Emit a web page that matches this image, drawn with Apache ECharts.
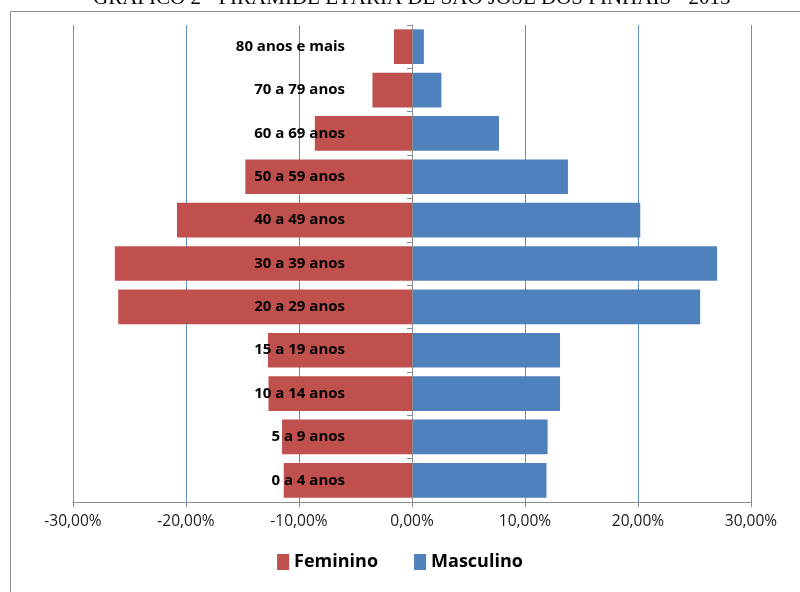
<!DOCTYPE html>
<html>
<head>
<meta charset="utf-8">
<script src="https://cdn.jsdelivr.net/npm/echarts@6/dist/echarts.min.js"></script>
<style>
  html, body { margin: 0; padding: 0; background: #fff; }
  #chart { width: 800px; height: 592px; }
</style>
</head>
<body>
<div id="chart"></div>
<script>
// faixas etarias, de baixo para cima
let faixas = ['0 a 4 anos', '5 a 9 anos', '10 a 14 anos', '15 a 19 anos', '20 a 29 anos',
    '30 a 39 anos', '40 a 49 anos', '50 a 59 anos', '60 a 69 anos', '70 a 79 anos', '80 anos e mais'];

// percentuais (feminino vai para a esquerda)
let feminino = [11.35, 11.5, 12.7, 12.75, 26.0, 26.3, 20.8, 14.75, 8.6, 3.5, 1.6];
let masculino = [11.9, 12.0, 13.1, 13.1, 25.5, 27.0, 20.2, 13.8, 7.7, 2.6, 1.05];

let x_ticks = [-30, -20, -10, 0, 10, 20, 30];

function fmt_pct(v) {
    return v.toFixed(2).replace('.', ',') + '%';
}

document.addEventListener("DOMContentLoaded", () => {
    draw_piramide();
});

function draw_piramide() {
    var chart = echarts.init(document.querySelector("#chart"));

    chart.setOption({
        animation: false,
        title: {
            text: 'GRÁFICO 2 - PIRÂMIDE ETÁRIA DE SÃO JOSÉ DOS PINHAIS - 2015',
            left: 88,
            top: -17,
            textStyle: {
                fontFamily: 'Liberation Serif',
                fontWeight: 'normal',
                fontSize: 21,
                color: '#000'
            }
        },
        graphic: [{
            type: 'rect',
            shape: { x: 10.5, y: 11.5, width: 800, height: 600 },
            style: { fill: 'none', stroke: '#8c8c8c', lineWidth: 1 },
            silent: true
        }],
        legend: {
            bottom: 16,
            left: 'center',
            itemWidth: 12,
            itemHeight: 16,
            itemGap: 36,
            icon: 'rect',
            textStyle: {
                fontFamily: 'Open Sans',
                fontWeight: 'bold',
                fontSize: 18,
                color: '#000'
            },
            data: ['Feminino', 'Masculino']
        },
        grid: {
            left: 73,
            right: 49,
            top: 25,
            bottom: 90,
            containLabel: false,
            outerBoundsMode: 'none'
        },
        xAxis: {
            type: 'value',
            min: x_ticks[0],
            max: x_ticks[x_ticks.length - 1],
            interval: 10,
            axisLine: { show: true, lineStyle: { color: '#8c8c8c' } },
            axisTick: { show: true, length: 5, lineStyle: { color: '#8c8c8c' } },
            axisLabel: {
                formatter: fmt_pct,
                fontFamily: 'Open Sans',
                fontSize: 15.5,
                color: '#1a1a1a',
                margin: 12
            },
            splitLine: { show: true, lineStyle: { color: '#5b8fd0', width: 1 } }
        },
        yAxis: {
            type: 'category',
            data: faixas,
            z: 10,
            // eixo desenhado no 0,00% (412 - 73)
            offset: -339,
            axisLine: { show: true, onZero: false, lineStyle: { color: '#8c8c8c' } },
            axisTick: { show: true, length: 5, lineStyle: { color: '#8c8c8c' } },
            axisLabel: {
                margin: 67,
                fontFamily: 'Open Sans',
                fontWeight: 'bold',
                fontSize: 15,
                color: '#000'
            },
            splitLine: { show: false }
        },
        series: [{
            name: 'Feminino',
            type: 'bar',
            stack: 'piramide',
            barCategoryGap: '20%',
            itemStyle: { color: '#c0504d' },
            data: feminino.map(function (v) { return -v; })
        }, {
            name: 'Masculino',
            type: 'bar',
            stack: 'piramide',
            barCategoryGap: '20%',
            itemStyle: { color: '#4f81bd' },
            data: masculino
        }]
    });
}
</script>
</body>
</html>
